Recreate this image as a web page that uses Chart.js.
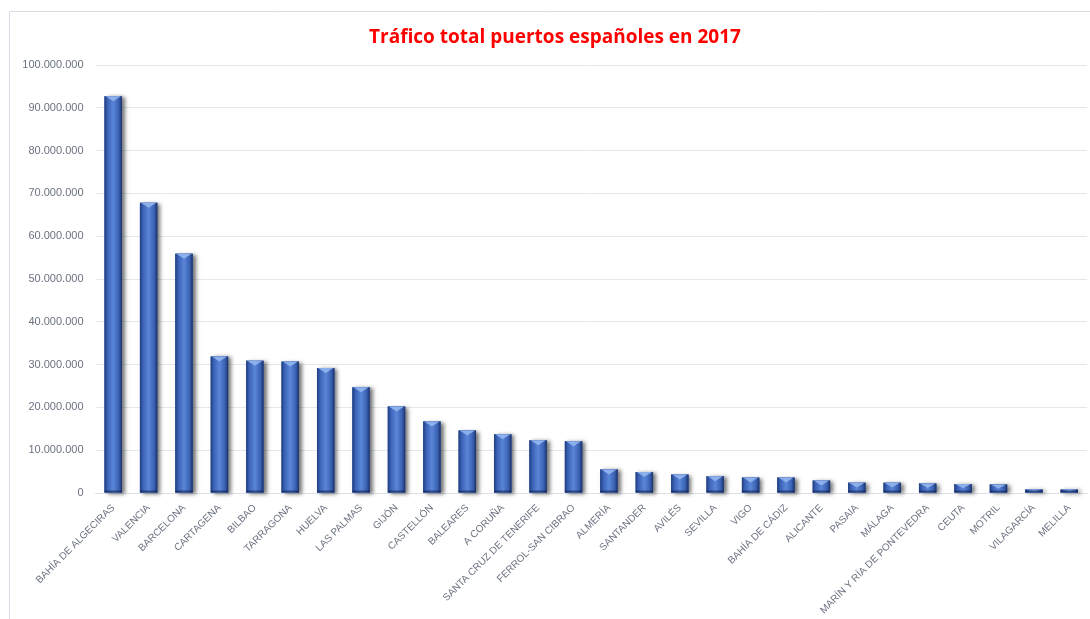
<!DOCTYPE html>
<html>
<head>
<meta charset="utf-8">
<script src="https://cdn.jsdelivr.net/npm/chart.js@4.4.1/dist/chart.umd.min.js"></script>
<style>
  html, body { margin: 0; padding: 0; background: #fff; }
  #wrap { width: 1090px; height: 619px; position: relative; }
</style>
</head>
<body>
<div id="wrap"><canvas id="myChart" width="1090" height="619"></canvas></div>
<script>
const ports = [
  "BAHÍA DE ALGECIRAS", "VALENCIA", "BARCELONA", "CARTAGENA", "BILBAO",
  "TARRAGONA", "HUELVA", "LAS PALMAS", "GIJÓN", "CASTELLÓN", "BALEARES",
  "A CORUÑA", "SANTA CRUZ DE TENERIFE", "FERROL-SAN CIBRAO", "ALMERÍA",
  "SANTANDER", "AVILÉS", "SEVILLA", "VIGO", "BAHÍA DE CÁDIZ", "ALICANTE",
  "PASAIA", "MÁLAGA", "MARÍN Y RÍA DE PONTEVEDRA", "CEUTA", "MOTRIL",
  "VILAGARCÍA", "MELILLA"
];

// toneladas
const traffic = [
  92700000, 67800000, 55900000, 31900000, 30900000,
  30700000, 29200000, 24700000, 20200000, 16700000, 14600000,
  13700000, 12300000, 12100000, 5500000,
  4900000, 4300000, 3900000, 3600000, 3600000, 2900000,
  2400000, 2400000, 2200000, 2100000, 2000000,
  800000, 800000
];

const yTicks = [0, 10000000, 20000000, 30000000, 40000000, 50000000,
  60000000, 70000000, 80000000, 90000000, 100000000];

const chartTitle = "Tráfico total puertos españoles en 2017";

const formatNumber = (n) => String(n).replace(/\B(?=(\d{3})+(?!\d))/g, ".");

const frame = {
  id: "frame",
  beforeDraw(chart) {
    const ctx = chart.ctx;
    ctx.save();
    ctx.fillStyle = "#fff";
    ctx.fillRect(0, 0, chart.width, chart.height);
    ctx.strokeStyle = "#d9dde5";
    ctx.lineWidth = 1;
    ctx.beginPath();
    ctx.moveTo(9.5, chart.height);
    ctx.lineTo(9.5, 11.5);
    ctx.lineTo(chart.width, 11.5);
    ctx.stroke();
    ctx.restore();
  },
  // titulo centrado en el marco (no en todo el canvas)
  afterDraw(chart) {
    const ctx = chart.ctx;
    ctx.save();
    ctx.fillStyle = "#ff0000";
    ctx.font = "bold 19px 'Open Sans', sans-serif";
    ctx.textAlign = "center";
    ctx.textBaseline = "middle";
    ctx.fillText(chartTitle, (chart.width + 20) / 2, 38);
    ctx.restore();
  }
};

const barShade = {
  id: "barShade",
  beforeDatasetsDraw(chart) {
    const ctx = chart.ctx;
    ctx.save();
    ctx.shadowColor = "rgba(0,0,0,0.55)";
    ctx.shadowBlur = 4;
    ctx.shadowOffsetX = 3;
    ctx.shadowOffsetY = 1;
    ctx.fillStyle = "#2b4a8c";
    chart.getDatasetMeta(0).data.forEach((bar) => {
      const { x, y, base, width } = bar.getProps(["x", "y", "base", "width"], true);
      ctx.fillRect(x - width / 2, y, width, base - y);
    });
    ctx.restore();
  },
  afterDatasetsDraw(chart) {
    const ctx = chart.ctx;
    chart.getDatasetMeta(0).data.forEach((bar) => {
      const { x, y, base, width } = bar.getProps(["x", "y", "base", "width"], true);
      const l = x - width / 2;
      const r = x + width / 2;
      const g = ctx.createLinearGradient(l, 0, r, 0);
      g.addColorStop(0, "#213d7c");
      g.addColorStop(0.18, "#3b63b8");
      g.addColorStop(0.5, "#5a86d8");
      g.addColorStop(0.82, "#3a61b3");
      g.addColorStop(1, "#1b3168");
      ctx.save();
      ctx.fillStyle = g;
      ctx.fillRect(l, y, width, base - y);
      const cap = Math.min(5, (base - y) / 2);
      ctx.fillStyle = "rgba(150,185,240,0.85)";
      ctx.beginPath();
      ctx.moveTo(l + 1, y);
      ctx.lineTo(r - 1, y);
      ctx.lineTo(x, y + cap);
      ctx.closePath();
      ctx.fill();
      ctx.fillStyle = "rgba(20,35,80,0.6)";
      ctx.fillRect(l, base - 2, width, 2);
      ctx.restore();
    });
  }
};

const ctx = document.getElementById("myChart").getContext("2d");
const myChart = new Chart(ctx, {
  type: "bar",
  data: {
    labels: ports,
    datasets: [
      {
        data: traffic,
        backgroundColor: "#4472c4",
        borderWidth: 0,
        categoryPercentage: 1,
        barPercentage: 0.49,
      },
    ],
  },
  options: {
    responsive: false,
    animation: false,
    layout: { padding: { left: 0, right: 3, top: 65, bottom: 0 } },
    plugins: {
      legend: { display: false },
      tooltip: { enabled: false },
      title: { display: false },
    },
    scales: {
      x: {
        grid: { display: false, drawTicks: false },
        border: { display: true, color: "#dde2ea", width: 1 },
        ticks: {
          autoSkip: false,
          maxRotation: 45,
          minRotation: 45,
          padding: 9,
          color: "#6b7280",
          font: { family: "'Liberation Sans', Arial, sans-serif", size: 10 },
        },
        afterFit(scale) {
          scale.height = 126;
        },
      },
      y: {
        min: 0,
        max: 100000000,
        afterBuildTicks(scale) {
          scale.ticks = yTicks.map((v) => ({ value: v }));
        },
        grid: { color: "#e3e7ee", drawTicks: false },
        border: { display: false },
        ticks: {
          padding: 12,
          color: "#6b7280",
          font: { family: "'Liberation Sans', Arial, sans-serif", size: 11 },
          callback: (v) => formatNumber(v),
        },
        afterFit(scale) {
          scale.width = 95.5;
        },
      },
    },
  },
  plugins: [frame, barShade],
});
</script>
</body>
</html>
